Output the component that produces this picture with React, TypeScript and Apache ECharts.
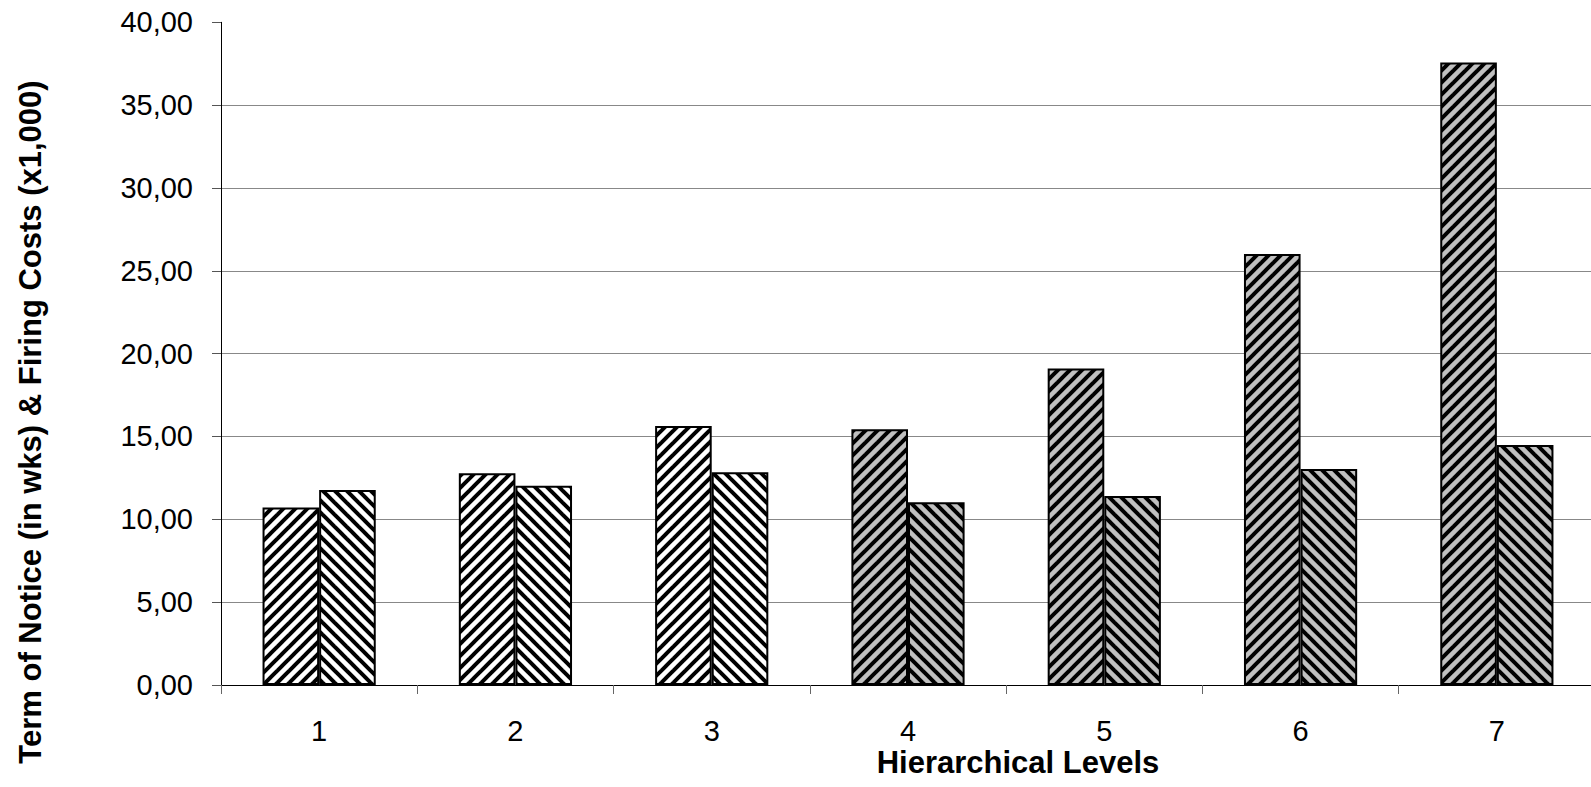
import React, { useEffect, useRef } from "react";
import * as echarts from "echarts";

const levels = ["1", "2", "3", "4", "5", "6", "7"];
const termOfNotice = [10.72, 12.78, 15.63, 15.43, 19.11, 26.01, 37.58];
const firingCosts = [11.77, 12.03, 12.84, 11.03, 11.41, 13.04, 14.48];
// levels 1-3 drawn with a white ground, 4-7 with a grey ground
const greyGround = [false, false, false, true, true, true, true];
const yTitle = "Term of Notice (in wks) & Firing Costs (x1,000)";
const xTitle = "Hierarchical Levels";

const FONT = "'Liberation Sans', Arial, sans-serif";

function makePattern(bg: string, dir: "/" | "\\") {
  const s = 12;
  const c = document.createElement("canvas");
  c.width = s;
  c.height = s;
  const ctx = c.getContext("2d")!;
  ctx.fillStyle = bg;
  ctx.fillRect(0, 0, s, s);
  ctx.strokeStyle = "#000";
  ctx.lineWidth = 4;
  for (const k of [-1, 0, 1]) {
    ctx.beginPath();
    if (dir === "/") {
      ctx.moveTo(k * s - s, 2 * s);
      ctx.lineTo(k * s + 2 * s, -s);
    } else {
      ctx.moveTo(k * s - s, -s);
      ctx.lineTo(k * s + 2 * s, 2 * s);
    }
    ctx.stroke();
  }
  return { image: c, repeat: "repeat", imageWidth: s, imageHeight: s } as any;
}

export default function App() {
  const ref = useRef<HTMLDivElement>(null);
  useEffect(() => {
    if (!ref.current) return;
    const chart = echarts.init(ref.current, null, { renderer: "svg" });
    const pA = { white: makePattern("#ffffff", "/"), grey: makePattern("#c0c0c0", "/") };
    const pB = { white: makePattern("#ffffff", "\\"), grey: makePattern("#c0c0c0", "\\") };
    const build = (vals: number[], p: any) =>
      vals.map((v, i) => ({
        value: v,
        itemStyle: { color: greyGround[i] ? p.grey : p.white },
      }));
    chart.setOption({
      animation: false,
      backgroundColor: "#ffffff",
      grid: { left: 221, right: 0, top: 22.3, bottom: 102, containLabel: false },
      xAxis: {
        type: "category",
        data: levels,
        boundaryGap: true,
        axisLine: { show: true, lineStyle: { color: "#000", width: 1 } },
        axisTick: { show: true, length: 9, alignWithLabel: false, lineStyle: { color: "#666" } },
        axisLabel: { fontSize: 29, color: "#000", fontFamily: FONT, margin: 31 },
        splitLine: { show: false },
      },
      yAxis: {
        type: "value",
        min: 0,
        max: 40,
        interval: 5,
        axisLine: { show: true, lineStyle: { color: "#000", width: 1 } },
        axisTick: { show: true, length: 9, lineStyle: { color: "#555" } },
        axisLabel: {
          fontSize: 29,
          color: "#000",
          fontFamily: FONT,
          margin: 28,
          formatter: (v: number) => v.toFixed(2).replace(".", ","),
        },
        splitLine: { show: true, showMaxLine: false, lineStyle: { color: "#888", width: 1 } },
      },
      series: [
        {
          name: "Term of Notice",
          type: "bar",
          barWidth: 56.6,
          barGap: "0%",
          data: build(termOfNotice, pA),
          itemStyle: { borderColor: "#000", borderWidth: 2 },
        },
        {
          name: "Firing Costs",
          type: "bar",
          barWidth: 56.6,
          barGap: "0%",
          data: build(firingCosts, pB),
          itemStyle: { borderColor: "#000", borderWidth: 2 },
        },
      ],
      graphic: [
        {
          type: "text",
          x: 30,
          y: 422,
          rotation: Math.PI / 2,
          style: {
            text: yTitle,
            fontSize: 31,
            fontWeight: "bold",
            fontFamily: FONT,
            fill: "#000",
            textAlign: "center",
            textVerticalAlign: "middle",
          },
        },
        {
          type: "text",
          x: 1018,
          y: 762,
          style: {
            text: xTitle,
            fontSize: 31,
            fontWeight: "bold",
            fontFamily: FONT,
            fill: "#000",
            textAlign: "center",
            textVerticalAlign: "middle",
          },
        },
      ],
    });
    return () => chart.dispose();
  }, []);
  return (
    <div
      ref={ref}
      style={{ position: "fixed", left: 0, top: 0, width: 1595, height: 787, background: "#fff" }}
    />
  );
}
